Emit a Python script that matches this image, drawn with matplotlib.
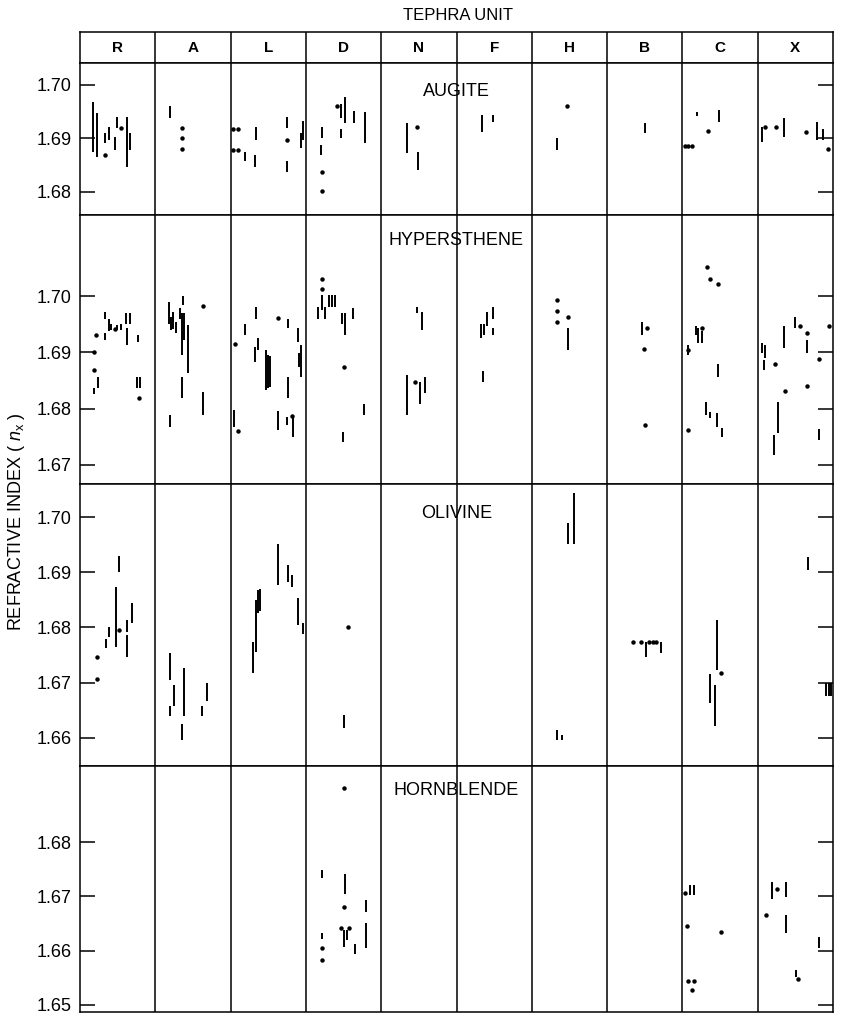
import matplotlib
matplotlib.use("Agg")
import matplotlib.pyplot as plt

plt.rcParams['font.family'] = ['Liberation Sans', 'DejaVu Sans']
plt.rcParams['mathtext.fontset'] = 'custom'
plt.rcParams['mathtext.rm'] = 'Liberation Sans'
plt.rcParams['mathtext.it'] = 'Liberation Sans:italic'

# tephra units, left to right
units = ["R", "A", "L", "D", "N", "F", "H", "B", "C", "X"]

# ranges: (unit, position inside the unit column, low n_x, high n_x)
# points: (unit, position inside the unit column, n_x)
augite_ranges = [
    ("R", 0.17, 1.6875, 1.6969), ("R", 0.23, 1.6866, 1.6947), ("R", 0.33, 1.6891, 1.6910),
    ("R", 0.39, 1.6897, 1.6922), ("R", 0.46, 1.6879, 1.6903), ("R", 0.49, 1.6919, 1.6941),
    ("R", 0.62, 1.6847, 1.6941), ("R", 0.67, 1.6879, 1.6910),
    ("A", 0.20, 1.6938, 1.6960),
    ("L", 0.19, 1.6857, 1.6875), ("L", 0.32, 1.6847, 1.6869), ("L", 0.34, 1.6897, 1.6922),
    ("L", 0.75, 1.6919, 1.6941), ("L", 0.75, 1.6838, 1.6857), ("L", 0.93, 1.6882, 1.6910),
    ("L", 0.96, 1.6897, 1.6933),
    ("D", 0.22, 1.6900, 1.6922), ("D", 0.20, 1.6869, 1.6888), ("D", 0.46, 1.6938, 1.6964),
    ("D", 0.52, 1.6928, 1.6978), ("D", 0.46, 1.6900, 1.6918), ("D", 0.64, 1.6928, 1.6952),
    ("D", 0.78, 1.6891, 1.6950),
    ("N", 0.34, 1.6872, 1.6928), ("N", 0.49, 1.6841, 1.6875),
    ("F", 0.34, 1.6913, 1.6944), ("F", 0.49, 1.6931, 1.6944),
    ("H", 0.34, 1.6879, 1.6900),
    ("B", 0.50, 1.6910, 1.6928),
    ("C", 0.20, 1.6942, 1.6950), ("C", 0.49, 1.6931, 1.6953),
    ("X", 0.06, 1.6894, 1.6922), ("X", 0.35, 1.6903, 1.6938), ("X", 0.79, 1.6897, 1.6931),
    ("X", 0.87, 1.6897, 1.6918),
]
augite_points = [
    ("R", 0.335, 1.6869), ("R", 0.54, 1.6919),
    ("A", 0.35, 1.6920), ("A", 0.35, 1.6900), ("A", 0.35, 1.6880),
    ("L", 0.03, 1.6918), ("L", 0.10, 1.6918), ("L", 0.03, 1.6879), ("L", 0.10, 1.6879),
    ("L", 0.75, 1.6897),
    ("D", 0.21, 1.6838), ("D", 0.21, 1.6801), ("D", 0.41, 1.6961),
    ("N", 0.47, 1.6922),
    ("H", 0.47, 1.6961),
    ("C", 0.03, 1.6885), ("C", 0.08, 1.6885), ("C", 0.13, 1.6885), ("C", 0.34, 1.6914),
    ("X", 0.10, 1.6922), ("X", 0.24, 1.6922), ("X", 0.64, 1.6912), ("X", 0.94, 1.6880),
]

hyper_ranges = [
    ("R", 0.19, 1.6826, 1.6836), ("R", 0.24, 1.6836, 1.6857), ("R", 0.33, 1.6960, 1.6972),
    ("R", 0.33, 1.6922, 1.6934), ("R", 0.39, 1.6937, 1.6960), ("R", 0.41, 1.6940, 1.6951),
    ("R", 0.49, 1.6940, 1.6948), ("R", 0.54, 1.6940, 1.6951), ("R", 0.61, 1.6951, 1.6969),
    ("R", 0.66, 1.6951, 1.6969), ("R", 0.62, 1.6913, 1.6943), ("R", 0.77, 1.6919, 1.6931),
    ("R", 0.76, 1.6836, 1.6857), ("R", 0.80, 1.6836, 1.6857),
    ("A", 0.18, 1.6951, 1.6990), ("A", 0.21, 1.6940, 1.6963), ("A", 0.23, 1.6942, 1.6972),
    ("A", 0.27, 1.6934, 1.6954), ("A", 0.33, 1.6960, 1.6978), ("A", 0.35, 1.6895, 1.6969),
    ("A", 0.37, 1.6984, 1.7000), ("A", 0.38, 1.6922, 1.6969), ("A", 0.44, 1.6863, 1.6948),
    ("A", 0.35, 1.6818, 1.6857), ("A", 0.20, 1.6768, 1.6789), ("A", 0.64, 1.6789, 1.6830),
    ("L", 0.05, 1.6768, 1.6798), ("L", 0.19, 1.6931, 1.6951), ("L", 0.34, 1.6960, 1.6981),
    ("L", 0.32, 1.6883, 1.6910), ("L", 0.36, 1.6904, 1.6925), ("L", 0.47, 1.6833, 1.6904),
    ("L", 0.50, 1.6836, 1.6895), ("L", 0.52, 1.6838, 1.6893), ("L", 0.63, 1.6762, 1.6795),
    ("L", 0.76, 1.6943, 1.6960), ("L", 0.76, 1.6818, 1.6857), ("L", 0.75, 1.6770, 1.6785),
    ("L", 0.83, 1.6750, 1.6786), ("L", 0.90, 1.6919, 1.6943), ("L", 0.91, 1.6874, 1.6898),
    ("L", 0.94, 1.6857, 1.6913),
    ("D", 0.16, 1.6960, 1.6981), ("D", 0.21, 1.6975, 1.7002), ("D", 0.25, 1.6960, 1.6981),
    ("D", 0.31, 1.6981, 1.7002), ("D", 0.34, 1.6981, 1.7002), ("D", 0.39, 1.6981, 1.7002),
    ("D", 0.48, 1.6951, 1.6969), ("D", 0.52, 1.6931, 1.6969), ("D", 0.62, 1.6960, 1.6978),
    ("D", 0.77, 1.6789, 1.6809), ("D", 0.49, 1.6741, 1.6759),
    ("N", 0.476, 1.6969, 1.6981), ("N", 0.54, 1.6940, 1.6972), ("N", 0.34, 1.6789, 1.6860),
    ("N", 0.51, 1.6809, 1.6848), ("N", 0.58, 1.6827, 1.6857),
    ("F", 0.33, 1.6925, 1.6951), ("F", 0.37, 1.6930, 1.6950), ("F", 0.40, 1.6946, 1.6972),
    ("F", 0.49, 1.6960, 1.6981), ("F", 0.49, 1.6930, 1.6943), ("F", 0.35, 1.6848, 1.6866),
    ("H", 0.48, 1.6904, 1.6943),
    ("B", 0.47, 1.6931, 1.6954),
    ("C", 0.18, 1.6931, 1.6946), ("C", 0.21, 1.6916, 1.6943), ("C", 0.26, 1.6916, 1.6937),
    ("C", 0.08, 1.6895, 1.6913), ("C", 0.47, 1.6857, 1.6880), ("C", 0.32, 1.6789, 1.6812),
    ("C", 0.37, 1.6783, 1.6794), ("C", 0.46, 1.6768, 1.6792), ("C", 0.52, 1.6750, 1.6765),
    ("X", 0.06, 1.6898, 1.6916), ("X", 0.10, 1.6890, 1.6913), ("X", 0.08, 1.6869, 1.6886),
    ("X", 0.27, 1.6756, 1.6812), ("X", 0.21, 1.6718, 1.6753), ("X", 0.35, 1.6907, 1.6946),
    ("X", 0.49, 1.6943, 1.6963), ("X", 0.66, 1.6898, 1.6922), ("X", 0.81, 1.6744, 1.6763),
]
hyper_points = [
    ("R", 0.21, 1.6931), ("R", 0.19, 1.6901), ("R", 0.19, 1.6869), ("R", 0.46, 1.6941),
    ("R", 0.79, 1.6818),
    ("A", 0.63, 1.6982),
    ("L", 0.06, 1.6914), ("L", 0.10, 1.6761), ("L", 0.63, 1.6961), ("L", 0.81, 1.6786),
    ("D", 0.21, 1.7030), ("D", 0.21, 1.7012), ("D", 0.50, 1.6874),
    ("N", 0.45, 1.6848),
    ("H", 0.33, 1.6993), ("H", 0.33, 1.6974), ("H", 0.33, 1.6954), ("H", 0.48, 1.6962),
    ("B", 0.53, 1.6943), ("B", 0.49, 1.6906), ("B", 0.50, 1.6771),
    ("C", 0.33, 1.7051), ("C", 0.36, 1.7031), ("C", 0.47, 1.7021), ("C", 0.26, 1.6943),
    ("C", 0.08, 1.6904), ("C", 0.08, 1.6762),
    ("X", 0.23, 1.6879), ("X", 0.36, 1.6832), ("X", 0.56, 1.6946), ("X", 0.66, 1.6935),
    ("X", 0.66, 1.6840), ("X", 0.81, 1.6888), ("X", 0.95, 1.6946),
]

olivine_ranges = [
    ("R", 0.34, 1.6762, 1.6780), ("R", 0.39, 1.6783, 1.6801), ("R", 0.48, 1.6765, 1.6874),
    ("R", 0.52, 1.6901, 1.6929), ("R", 0.63, 1.6792, 1.6814), ("R", 0.63, 1.6747, 1.6786),
    ("R", 0.69, 1.6808, 1.6844),
    ("A", 0.19, 1.6705, 1.6753), ("A", 0.25, 1.6657, 1.6696), ("A", 0.20, 1.6639, 1.6657),
    ("A", 0.38, 1.6639, 1.6726), ("A", 0.35, 1.6596, 1.6626), ("A", 0.62, 1.6639, 1.6657),
    ("A", 0.68, 1.6666, 1.6699),
    ("L", 0.30, 1.6717, 1.6774), ("L", 0.34, 1.6756, 1.6850), ("L", 0.36, 1.6826, 1.6868),
    ("L", 0.39, 1.6830, 1.6870), ("L", 0.63, 1.6877, 1.6952), ("L", 0.76, 1.6883, 1.6913),
    ("L", 0.82, 1.6874, 1.6895), ("L", 0.90, 1.6805, 1.6853), ("L", 0.96, 1.6789, 1.6808),
    ("D", 0.51, 1.6618, 1.6642),
    ("H", 0.56, 1.6952, 1.7043), ("H", 0.48, 1.6952, 1.6989), ("H", 0.34, 1.6597, 1.6615),
    ("H", 0.40, 1.6597, 1.6606),
    ("B", 0.51, 1.6747, 1.6773), ("B", 0.71, 1.6754, 1.6773),
    ("C", 0.46, 1.6723, 1.6814), ("C", 0.36, 1.6663, 1.6716), ("C", 0.43, 1.6621, 1.6696),
    ("X", 0.67, 1.6904, 1.6928), ("X", 0.91, 1.6675, 1.6699), ("X", 0.95, 1.6675, 1.6699),
    ("X", 0.98, 1.6675, 1.6699),
]
olivine_points = [
    ("R", 0.22, 1.6746), ("R", 0.22, 1.6707), ("R", 0.52, 1.6795),
    ("D", 0.56, 1.6800),
    ("B", 0.34, 1.6773), ("B", 0.45, 1.6773), ("B", 0.56, 1.6773), ("B", 0.61, 1.6773),
    ("B", 0.65, 1.6773),
    ("C", 0.51, 1.6718),
]

hornblende_ranges = [
    ("D", 0.22, 1.6733, 1.6748), ("D", 0.52, 1.6705, 1.6742), ("D", 0.80, 1.6672, 1.6694),
    ("D", 0.22, 1.6621, 1.6633), ("D", 0.51, 1.6607, 1.6638), ("D", 0.55, 1.6620, 1.6638),
    ("D", 0.65, 1.6594, 1.6613), ("D", 0.80, 1.6604, 1.6650),
    ("C", 0.10, 1.6702, 1.6721), ("C", 0.15, 1.6702, 1.6721),
    ("X", 0.19, 1.6696, 1.6727), ("X", 0.37, 1.6699, 1.6727), ("X", 0.38, 1.6632, 1.6666),
    ("X", 0.81, 1.6604, 1.6626), ("X", 0.51, 1.6552, 1.6564),
]
hornblende_points = [
    ("D", 0.50, 1.6899), ("D", 0.51, 1.6681), ("D", 0.22, 1.6604), ("D", 0.22, 1.6583),
    ("D", 0.46, 1.6642), ("D", 0.57, 1.6641),
    ("C", 0.04, 1.6707), ("C", 0.06, 1.6645), ("C", 0.51, 1.6635), ("C", 0.07, 1.6545),
    ("C", 0.15, 1.6545), ("C", 0.13, 1.6527),
    ("X", 0.25, 1.6713), ("X", 0.11, 1.6666), ("X", 0.54, 1.6547),
]

augite_ticks = [1.68, 1.69, 1.70]
hyper_ticks = [1.67, 1.68, 1.69, 1.70]
olivine_ticks = [1.66, 1.67, 1.68, 1.69, 1.70]
hornblende_ticks = [1.65, 1.66, 1.67, 1.68]

# name, ranges, points, ticks, y-limits, label height, pixel top/bottom of the panel
panels = [
    ("AUGITE", augite_ranges, augite_points, augite_ticks, (1.6757, 1.7041), 1.6987, 63, 215),
    ("HYPERSTHENE", hyper_ranges, hyper_points, hyper_ticks, (1.6666, 1.7144), 1.7099, 215, 484),
    ("OLIVINE", olivine_ranges, olivine_points, olivine_ticks, (1.6549, 1.7060), 1.7007, 484, 766),
    ("HORNBLENDE", hornblende_ranges, hornblende_points, hornblende_ticks, (1.6487, 1.6940), 1.6894, 766, 1012),
]

W, H = 841, 1015
LEFT, RIGHT = 80, 833
LW = 1.1


def box(top, bottom):
    return [LEFT / W, 1 - bottom / H, (RIGHT - LEFT) / W, (bottom - top) / H]


fig = plt.figure(figsize=(W / 100, H / 100), dpi=100)

# header row with the unit letters
hdr = fig.add_axes(box(32, 63))
hdr.set_xlim(0, len(units))
hdr.set_ylim(0, 1)
for k in range(1, len(units)):
    hdr.axvline(k, color='black', lw=LW)
for k, u in enumerate(units):
    hdr.text(k + 0.5, 0.48, u, ha='center', va='center', fontsize=11, fontweight='bold')
hdr.set_xticks([])
hdr.set_yticks([])
for s in hdr.spines.values():
    s.set_linewidth(LW)

fig.text(458 / W, 1 - 16 / H, "TEPHRA UNIT", ha='center', va='center', fontsize=12)

for name, ranges, points, ticks, ylim, label_y, top, bottom in panels:
    ax = fig.add_axes(box(top, bottom))
    ax.set_xlim(0, len(units))
    ax.set_ylim(*ylim)
    for k in range(1, len(units)):
        ax.axvline(k, color='black', lw=LW)

    rx = [units.index(u) + p for u, p, lo, hi in ranges]
    rlo = [lo for u, p, lo, hi in ranges]
    rhi = [hi for u, p, lo, hi in ranges]
    ax.vlines(rx, rlo, rhi, color='black', lw=1.4)

    px = [units.index(u) + p for u, p, v in points]
    py = [v for u, p, v in points]
    ax.plot(px, py, 'o', color='black', ms=3.2, mew=0)

    ax.text(len(units) / 2, label_y, name, ha='center', va='center', fontsize=13)

    ax.set_xticks([])
    ax.set_yticks(ticks)
    ax.yaxis.set_major_formatter('{x:.2f}')
    ax.tick_params(axis='y', direction='in', length=11, width=LW, left=True, right=True,
                   labelsize=13, pad=6)
    for s in ax.spines.values():
        s.set_linewidth(LW)

fig.text(17 / W, 1 - 522 / H, r"REFRACTIVE INDEX ( $\mathit{n}_{\mathrm{x}}$ )",
         rotation=90, ha='center', va='center', fontsize=13)

fig.savefig("out.png", dpi=100)
